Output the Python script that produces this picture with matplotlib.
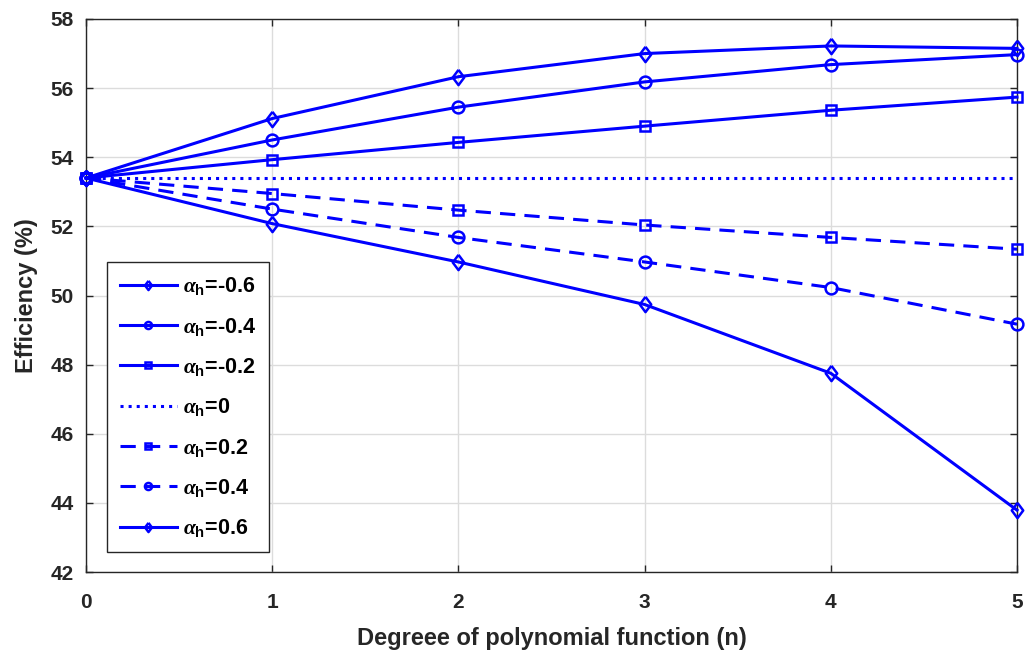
import numpy as np
import matplotlib
matplotlib.use('Agg')
import matplotlib.pyplot as plt

# efficiency vs polynomial degree for several alpha_h values
n = [0, 1, 2, 3, 4, 5]
alphas = ['-0.6', '-0.4', '-0.2', '0', '0.2', '0.4', '0.6']
eff_m06 = [53.4, 55.12, 56.33, 57.0, 57.22, 57.15]
eff_m04 = [53.4, 54.5, 55.45, 56.18, 56.68, 56.97]
eff_m02 = [53.4, 53.93, 54.43, 54.9, 55.36, 55.74]
eff_0 = [53.4, 53.4, 53.4, 53.4, 53.4, 53.4]
eff_p02 = [53.4, 52.95, 52.47, 52.04, 51.68, 51.34]
eff_p04 = [53.4, 52.5, 51.68, 50.97, 50.23, 49.17]
eff_p06 = [53.4, 52.08, 50.97, 49.74, 47.75, 43.79]

series = [eff_m06, eff_m04, eff_m02, eff_0, eff_p02, eff_p04, eff_p06]
styles = ['-', '-', '-', ':', '--', '--', '-']

# MATLAB-style diamond (a bit taller than wide)
diamond = [(0, 1), (0.75, 0), (0, -1), (-0.75, 0), (0, 1)]
markers = [diamond, 'o', 's', None, 's', 'o', diamond]
msizes = [11, 8.5, 6.5, 0, 6.5, 8.5, 11]

plt.rcParams['font.family'] = ['Liberation Sans', 'DejaVu Sans']
plt.rcParams['font.weight'] = 'bold'
plt.rcParams['mathtext.fontset'] = 'custom'
plt.rcParams['mathtext.rm'] = 'Liberation Sans:bold'
plt.rcParams['mathtext.bf'] = 'Liberation Sans:bold'
plt.rcParams['mathtext.it'] = 'Liberation Serif:italic'

fig = plt.figure(figsize=(10.32, 6.63), dpi=100)
ax = fig.add_axes([86/1032, 1 - 572/663, (1017-86)/1032, (572-19)/663])

for vals, a, ls, mk, ms in zip(series, alphas, styles, markers, msizes):
    line, = ax.plot(n, vals, color='blue', linestyle=ls, linewidth=2.2,
                    marker=mk, markersize=ms, markerfacecolor='none',
                    markeredgewidth=1.8, label=r'$\alpha_{\mathbf{h}}$=' + a,
                    clip_on=False, zorder=3)
    if ls == '--':
        line.set_dashes((5, 3))

ax.set_xlim(0, 5)
ax.set_ylim(42, 58)
ax.set_xticks(n)
ax.set_yticks(np.arange(42, 59, 2))
ax.grid(True, color='#dcdcdc', linewidth=1)
ax.set_axisbelow(True)
ax.tick_params(direction='in', top=True, right=True, labelsize=15,
               length=5, width=1, color='#262626', pad=9)
ax.tick_params(axis='x', pad=15)
for tl in ax.get_xticklabels() + ax.get_yticklabels():
    tl.set_fontweight('bold')
    tl.set_color('#262626')
for s in ax.spines.values():
    s.set_color('#262626')
    s.set_linewidth(1)

ax.set_xlabel('Degreee of polynomial function (n)', fontsize=17,
              fontweight='bold', color='#262626', labelpad=11)
ax.set_ylabel('Efficiency (%)', fontsize=17, fontweight='bold',
              color='#262626', labelpad=9)

leg = ax.legend(loc='lower left', bbox_to_anchor=(0.0226, 0.036),
                borderaxespad=0, fontsize=15.5, handlelength=2.65,
                labelspacing=0.85, borderpad=0.6, handletextpad=0.3,
                fancybox=False, framealpha=1, edgecolor='#262626',
                markerscale=0.6)
leg.get_frame().set_linewidth(1)

fig.savefig('out.png', dpi=100)
